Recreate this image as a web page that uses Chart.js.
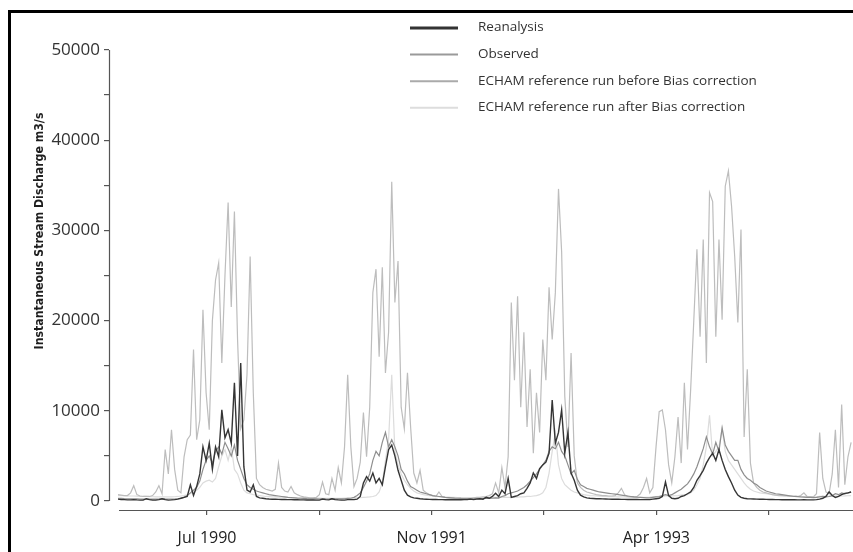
<!DOCTYPE html>
<html>
<head>
<meta charset="utf-8">
<script src="https://cdn.jsdelivr.net/npm/chart.js@4.4.0/dist/chart.umd.min.js"></script>
<style>
  html, body { margin: 0; padding: 0; background: #fff; overflow: hidden; }
  #wrap { position: relative; width: 853px; height: 552px; }
  #frame { position: absolute; left: 8px; top: 10px; width: 900px; height: 600px;
           border-top: 3px solid #000; border-left: 3px solid #000; pointer-events: none; }
  canvas { position: absolute; left: 0; top: 0; }
</style>
</head>
<body>
<div id="wrap">
  <canvas id="c" width="853" height="552"></canvas>
  <div id="frame"></div>
</div>
<script>
// Weekly series (index = week since start of record, early Jan 1990)
const reanalysis = [
  200,150,150,120,120,150,120,100,100,250,
  150,100,100,150,250,150,100,120,150,200,
  300,400,500,1800,600,1600,3000,6000,4500,6400,
  3500,6000,4900,10100,7000,7900,6400,13100,5000,15300,
  3800,1200,1000,1800,500,350,300,250,220,200,
  200,180,170,160,150,150,140,130,120,120,
  110,110,120,100,100,200,150,120,250,150,
  120,100,100,150,150,150,200,500,2000,2700,
  2200,3100,2000,2500,1800,3800,5700,6200,5000,3400,
  2300,1200,650,450,350,300,250,220,200,180,
  170,160,150,150,140,140,130,130,130,130,
  150,150,200,150,200,250,200,400,300,500,
  850,500,1200,800,2500,400,500,600,800,900,
  1400,2000,3100,2500,3600,4000,4300,5300,11200,6400,
  7600,10100,5300,7600,3100,2300,1200,650,450,350,
  300,280,250,240,230,220,210,200,200,190,
  180,180,170,170,160,160,150,150,150,150,
  200,250,300,500,2100,600,300,250,300,500,
  600,800,1000,1500,2300,2800,3400,4200,4800,5300,
  4500,5700,4500,3500,2700,2000,1200,650,400,300,
  250,230,220,210,200,190,180,170,160,150,
  150,140,140,130,130,130,120,120,150,120,
  120,120,150,200,300,500,1000,600,400,500,
  700,850,900,1000
];
const observed = [
  300,280,260,250,250,240,230,220,210,220,
  200,200,200,220,250,230,220,210,220,250,
  300,400,600,900,1200,1500,2200,3500,4500,5000,
  4200,5500,6000,5200,6500,5800,5000,6200,4500,3500,
  2500,1800,1500,1300,1100,1000,900,800,700,650,
  600,550,500,450,400,380,350,320,300,280,
  260,250,240,230,220,250,230,220,260,240,
  250,240,250,280,300,400,600,900,1500,2200,
  3000,4500,5500,5000,6500,7600,6000,6800,6000,5000,
  3500,3000,2200,1600,1400,1200,1000,900,800,700,
  600,550,500,450,400,380,350,320,300,280,
  270,260,260,250,260,270,260,300,280,300,
  350,320,500,600,800,900,1000,1100,1300,1500,
  1800,2200,2600,3000,3500,4000,4500,5500,6000,5800,
  6500,5500,5000,4000,3000,3400,2400,1800,1600,1400,
  1300,1200,1100,1000,950,900,850,800,750,700,
  650,600,550,500,450,420,400,380,350,350,
  400,450,500,600,700,600,700,900,1100,1300,
  1600,1900,2400,3000,3800,4800,5800,7100,6000,5200,
  6500,5500,8100,6200,5500,5000,4500,4500,3500,2900,
  2500,2300,2000,1800,1500,1300,1100,1000,900,800,
  750,700,650,600,550,500,480,450,430,400,
  400,380,400,450,500,450,500,600,800,700,
  900,800,900,1000
];
const echamBefore = [
  700,650,600,600,900,1700,700,550,500,500,
  500,600,1000,1700,800,5700,3000,7900,3500,1200,
  900,4900,6800,7300,16800,6800,9000,21200,12000,7900,
  20000,24500,26400,15300,25000,33100,21500,32100,17900,8000,
  9000,14000,27100,12000,2500,1800,1500,1300,1200,1100,
  1300,4200,1500,1100,1000,1600,900,700,550,450,
  400,350,350,400,700,2100,800,700,2500,1200,
  3700,2000,6000,14000,6000,1600,2500,4300,9800,4900,
  10400,23100,25700,16000,25900,14200,18700,35400,22000,26600,
  10400,8000,14200,8200,3100,2000,3400,1200,900,700,
  600,500,1000,500,400,350,300,300,300,300,
  300,300,300,350,400,400,450,500,600,800,
  2000,900,3700,1500,4900,22000,13400,22700,10400,18700,
  8200,14600,5300,12000,7600,17900,13400,23700,17900,23100,
  34600,27600,11600,6000,16400,5000,2000,1500,1200,1000,
  900,800,700,650,600,600,550,550,600,900,
  1400,700,500,450,450,500,800,1500,2500,900,
  1500,6000,9900,10100,7900,4000,2000,4900,9300,4200,
  13100,5700,12300,20000,27900,18200,29000,15300,34200,33200,
  18200,29000,20100,34900,36600,32700,27100,19800,30100,7100,
  14600,4200,2000,1500,1200,1000,900,800,700,650,
  600,600,550,550,500,500,500,600,900,500,
  450,450,800,7600,2500,1000,800,3000,7900,1500,
  10700,1800,4900,6500
];
const echamAfter = [
  600,600,580,560,550,550,530,520,500,500,
  480,470,460,450,450,450,450,460,470,500,
  550,600,700,800,1000,1200,1500,2000,2200,2300,
  2100,2500,3800,5000,5700,4500,6000,3500,3000,2000,
  1200,900,800,700,650,600,550,500,480,460,
  450,430,420,400,390,380,370,360,350,340,
  330,320,320,310,310,300,300,300,300,300,
  300,300,310,320,330,340,350,380,400,420,
  450,500,600,1000,2000,4500,6800,14000,5500,4000,
  3000,2300,1800,1400,1100,900,800,700,650,600,
  550,500,480,460,440,420,400,390,380,370,
  360,360,350,350,350,350,360,370,380,390,
  400,400,400,400,400,400,400,420,450,450,
  500,500,550,600,700,900,1500,3100,5500,7600,
  4000,2500,1800,1500,1200,1000,900,800,700,650,
  600,580,560,540,520,500,490,480,470,460,
  450,440,430,420,410,400,400,400,400,420,
  450,480,500,520,550,550,560,580,600,650,
  700,700,900,1200,1800,2500,4000,6000,9500,5000,
  5500,6000,8000,5500,4500,4000,3500,3000,2500,2000,
  1600,1300,1100,1000,900,850,800,750,700,650,
  620,600,580,560,540,520,500,490,480,470,
  460,450,450,500,520,500,500,520,550,530,
  550,560,580,600
];
const seriesNames = ['Reanalysis', 'Observed',
  'ECHAM reference run before Bias correction', 'ECHAM reference run after Bias correction'];
const weeks = reanalysis.map((_, i) => i);
// x ticks: every 250 days (35.71 weeks), starting mid-July 1990
const xTickWeeks = [28.3, 64.0, 99.7, 135.4, 171.1, 206.8];
const xTickLabels = ['Jul 1990', '', 'Nov 1991', '', 'Apr 1993', ''];
const yTickValues = [0,5000,10000,15000,20000,25000,30000,35000,40000,45000,50000];
const yTickLabels = ['0','','10000','','20000','','30000','','40000','','50000'];
const yTitle = 'Instantaneous Stream Discharge m3/s';

Chart.defaults.font.family = "'Open Sans', sans-serif";
Chart.defaults.color = '#333';

const titleFamily = "'Liberation Sans Narrow', 'DejaVu Sans Condensed', 'Open Sans', sans-serif";

const overlay = {
  id: 'overlay',
  afterDraw(chart) {
    const { ctx, chartArea, scales: { x, y } } = chart;
    ctx.save();
    // offset axis lines
    ctx.strokeStyle = '#555';
    ctx.lineWidth = 1.2;
    ctx.beginPath();
    ctx.moveTo(chartArea.left + 0.5, y.getPixelForValue(0));
    ctx.lineTo(chartArea.left + 0.5, y.getPixelForValue(50000));
    ctx.stroke();
    ctx.beginPath();
    ctx.moveTo(x.getPixelForValue(weeks[0]) + 1, chartArea.bottom + 0.5);
    ctx.lineTo(chartArea.right, chartArea.bottom + 0.5);
    ctx.stroke();
    // y axis title, sized to span the same length as the original
    ctx.fillStyle = '#1e1e1e';
    ctx.font = "600 10px " + titleFamily;
    const w10 = ctx.measureText(yTitle).width;
    const fs = Math.min(17, 10 * 237 / w10);
    ctx.font = "600 " + fs.toFixed(2) + "px " + titleFamily;
    ctx.translate(43, 231);
    ctx.rotate(-Math.PI / 2);
    ctx.textAlign = 'center';
    ctx.textBaseline = 'alphabetic';
    ctx.fillText(yTitle, 0, 0);
    ctx.restore();
    // legend
    ctx.save();
    ctx.font = "13.5px 'Open Sans', sans-serif";
    ctx.textBaseline = 'middle';
    ctx.textAlign = 'left';
    chart.data.datasets.forEach((ds, k) => {
      const ry = 27.5 + k * 26.6;
      ctx.strokeStyle = ds.legendColor;
      ctx.lineWidth = ds.legendWidth;
      ctx.beginPath();
      ctx.moveTo(410, ry + 0.5);
      ctx.lineTo(458, ry + 0.5);
      ctx.stroke();
      ctx.fillStyle = '#333';
      ctx.fillText(ds.label, 478, ry);
    });
    ctx.restore();
  }
};

new Chart(document.getElementById('c'), {
  type: 'line',
  data: {
    labels: weeks,
    datasets: [
      { label: seriesNames[0], data: reanalysis, borderColor: '#353535', borderWidth: 1.4, legendColor: '#333', legendWidth: 3 },
      { label: seriesNames[1], data: observed, borderColor: '#8e8e8e', borderWidth: 1.2, legendColor: '#9a9a9a', legendWidth: 2 },
      { label: seriesNames[2], data: echamBefore, borderColor: '#bdbdbd', borderWidth: 1.2, legendColor: '#aaaaaa', legendWidth: 2 },
      { label: seriesNames[3], data: echamAfter, borderColor: '#dcdcdc', borderWidth: 1.2, legendColor: '#dddddd', legendWidth: 2 }
    ]
  },
  options: {
    responsive: false,
    animation: false,
    layout: { padding: { top: 50, right: 0, bottom: 0, left: 0 } },
    elements: { point: { radius: 0 }, line: { tension: 0 } },
    plugins: { legend: { display: false }, tooltip: { enabled: false } },
    scales: {
      x: {
        type: 'linear',
        min: -2.86,
        max: 233.6,
        afterBuildTicks: s => { s.ticks = xTickWeeks.map(v => ({ value: v })); },
        afterFit: s => { s.height = 42; },
        border: { display: false },
        grid: { drawOnChartArea: false, drawTicks: true, tickLength: 5, color: '#555', lineWidth: 1.2 },
        ticks: {
          autoSkip: false, maxRotation: 0, padding: 14,
          font: { size: 16 }, color: '#222',
          callback: (v, i) => xTickLabels[i]
        }
      },
      y: {
        type: 'linear',
        min: -1000,
        max: 50000,
        afterBuildTicks: s => { s.ticks = yTickValues.map(v => ({ value: v })); },
        afterFit: s => { s.width = 109; },
        border: { display: false },
        grid: { drawOnChartArea: false, drawTicks: true, tickLength: 5, color: '#555', lineWidth: 1.2 },
        ticks: {
          autoSkip: false, padding: 4,
          font: { size: 17 }, color: '#333',
          callback: (v, i) => yTickLabels[i]
        }
      }
    }
  },
  plugins: [overlay]
});
</script>
</body>
</html>
